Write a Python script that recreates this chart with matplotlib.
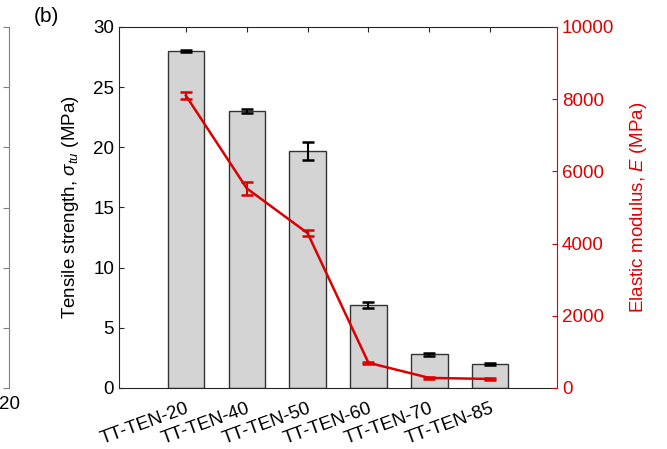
import numpy as np
import matplotlib.pyplot as plt

plt.rcParams['font.family'] = ['Liberation Sans', 'DejaVu Sans']
plt.rcParams['mathtext.fontset'] = 'custom'
plt.rcParams['mathtext.it'] = 'Liberation Sans:italic'
plt.rcParams['mathtext.rm'] = 'Liberation Sans'

samples = ["TT-TEN-20", "TT-TEN-40", "TT-TEN-50", "TT-TEN-60", "TT-TEN-70", "TT-TEN-85"]
strength = [28.0, 23.0, 19.7, 6.9, 2.8, 1.97]
strength_err = [0.1, 0.15, 0.72, 0.22, 0.12, 0.08]
modulus = [8100, 5530, 4290, 700, 280, 250]
modulus_err = [90, 180, 90, 30, 20, 15]

red = '#dd0000'
axis_grey = '#262626'
fs = 13.5

fig = plt.figure(figsize=(6.67, 4.49), dpi=100)
ax = fig.add_axes([119 / 667, 1 - 388 / 449, 438 / 667, 361 / 449])

x = np.arange(1, len(samples) + 1)
ax.bar(x, strength, width=0.6, color='#d4d4d4', edgecolor='#333333', linewidth=1.0, zorder=2)
ax.errorbar(x, strength, yerr=strength_err, fmt='none', ecolor='black',
            elinewidth=1.5, capsize=4.5, capthick=1.8, zorder=3)
ax.set_xlim(-0.1, 7.1)
ax.set_ylim(0, 30)
ax.set_yticks(np.arange(0, 31, 5))
ax.set_xticks(x)
ax.set_xticklabels(samples, rotation=20, ha='right', rotation_mode='anchor')
ax.tick_params(axis='both', direction='in', length=3.5, width=0.8, labelsize=fs,
               colors=axis_grey, top=True, labelcolor='black')
ax.tick_params(axis='x', pad=9)
ax.set_ylabel(r'Tensile strength, $\sigma_{tu}$ (MPa)', fontsize=fs, labelpad=9)
for s in ['left', 'top', 'bottom']:
    ax.spines[s].set_color(axis_grey)
    ax.spines[s].set_linewidth(0.8)
ax.spines['right'].set_visible(False)

ax2 = ax.twinx()
ax2.errorbar(x, modulus, yerr=modulus_err, color=red, ecolor=red, linewidth=1.8,
             elinewidth=1.5, capsize=4.5, capthick=1.8, zorder=4)
ax2.set_ylim(0, 10000)
ax2.set_yticks(np.arange(0, 10001, 2000))
ax2.tick_params(axis='y', direction='in', length=3.5, width=0.8, labelsize=fs, colors=red)
ax2.set_ylabel(r'Elastic modulus, $E$ (MPa)', fontsize=fs, color=red, labelpad=10)
ax2.spines['right'].set_color(red)
ax2.spines['right'].set_linewidth(0.8)
for s in ['left', 'top', 'bottom']:
    ax2.spines[s].set_visible(False)

# edge of the neighbouring panel (a)
axa = fig.add_axes([-0.3, 1 - 388 / 449, 0.3 + 9 / 667, 361 / 449])
axa.set_xlim(0, 20)
axa.set_ylim(0, 6)
axa.set_xticks([20])
axa.set_xticklabels(['20'])
axa.yaxis.tick_right()
axa.set_yticks(range(7))
axa.set_yticklabels([])
axa.tick_params(axis='y', direction='in', length=4, width=0.8, colors='#808080')
axa.tick_params(axis='x', length=0, labelsize=fs, pad=6)
for s in ['left', 'top', 'bottom']:
    axa.spines[s].set_visible(False)
axa.spines['right'].set_color('#808080')

fig.text(46 / 667, 1 - 16 / 449, '(b)', fontsize=15, ha='center', va='center')

fig.savefig('out.png', dpi=100)
